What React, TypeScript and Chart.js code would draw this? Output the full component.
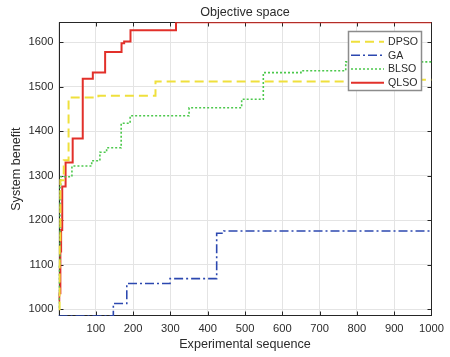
import { useEffect, useRef } from "react";
import { Chart, registerables } from "chart.js";

Chart.register(...registerables);

// Axis ranges and ticks
const xMin = 0;
const xMax = 1000;
const xTickStep = 100;
const yMin = 985;
const yMax = 1645;
const yTickStep = 100;
const yFirstTick = 1000;

// Best system benefit found so far, recorded at each improvement step
const dpsoX = [0, 3, 5, 14, 27, 107, 260, 950, 1000];
const dpsoY = [1000, 1150, 1290, 1335, 1476, 1480, 1512, 1516, 1516];

const gaX = [0, 147, 183, 299, 424, 443, 1000];
const gaY = [985, 1013, 1058, 1069, 1171, 1176, 1176];

const blsoX = [0, 2, 4, 6, 36, 89, 111, 129, 168, 192, 350, 491, 549, 650, 770, 1000];
const blsoY = [1005, 1100, 1280, 1298, 1322, 1334, 1353, 1363, 1418, 1435, 1453, 1472, 1532, 1536, 1556, 1556];

const qlsoX = [0, 2, 5, 7, 10, 19, 38, 65, 92, 125, 169, 176, 193, 315, 1000];
const qlsoY = [1020, 1036, 1130, 1178, 1276, 1330, 1384, 1518, 1532, 1578, 1598, 1602, 1627, 1645, 1645];

const seriesNames = ["DPSO", "GA", "BLSO", "QLSO"];

const titleText = "Objective space";
const xTitle = "Experimental sequence";
const yTitle = "System benefit";

const FONT = "'Liberation Sans', Arial, Helvetica, sans-serif";
const AXIS_COLOR = "#262626";
const TEXT_COLOR = "#2b2b2b";

const pts = (xs: number[], ys: number[]) => xs.map((x, i) => ({ x, y: ys[i] }));

const styles = [
  { color: "#EFE03C", dash: [9, 5], width: 2 },
  { color: "#2C48B0", dash: [9, 3, 2, 3], width: 1.6 },
  { color: "#4CC84C", dash: [2, 2], width: 1.6 },
  { color: "#E2302A", dash: [] as number[], width: 2 },
];

const framePlugin = {
  id: "frame",
  beforeDatasetsDraw(chart: any) {
    const { ctx, chartArea: a, scales } = chart;
    const x = scales.x;
    const y = scales.y;
    ctx.save();
    ctx.strokeStyle = AXIS_COLOR;
    ctx.lineWidth = 1;
    const L = Math.round(a.left) + 0.5;
    const R = Math.round(a.right) - 0.5;
    const T = Math.round(a.top) + 0.5;
    const B = Math.round(a.bottom) - 0.5;
    ctx.strokeRect(L, T, R - L, B - T);
    const tl = 4;
    ctx.beginPath();
    for (let v = xMin + xTickStep; v < xMax; v += xTickStep) {
      const px = Math.round(x.getPixelForValue(v)) + 0.5;
      ctx.moveTo(px, B);
      ctx.lineTo(px, B - tl);
      ctx.moveTo(px, T);
      ctx.lineTo(px, T + tl);
    }
    for (let v = yFirstTick; v <= yMax; v += yTickStep) {
      const py = Math.round(y.getPixelForValue(v)) + 0.5;
      ctx.moveTo(L, py);
      ctx.lineTo(L + tl, py);
      ctx.moveTo(R, py);
      ctx.lineTo(R - tl, py);
    }
    ctx.stroke();
    ctx.restore();
  },
  afterDraw(chart: any) {
    const { ctx, chartArea: a } = chart;
    const cx = (a.left + a.right) / 2;
    const cy = (a.top + a.bottom) / 2;
    ctx.save();
    ctx.fillStyle = TEXT_COLOR;
    ctx.textAlign = "center";
    ctx.textBaseline = "middle";
    ctx.font = `12.6px ${FONT}`;
    ctx.fillText(titleText, cx, 12.5);
    ctx.fillText(xTitle, cx, 345);
    ctx.save();
    ctx.translate(17, cy);
    ctx.rotate(-Math.PI / 2);
    ctx.fillText(yTitle, 0, 0);
    ctx.restore();

    // Legend box
    const bx = 348.5;
    const by = 31.5;
    const bw = 73;
    const bh = 59;
    ctx.fillStyle = "#ffffff";
    ctx.fillRect(bx, by, bw, bh);
    ctx.strokeStyle = "#8c8c8c";
    ctx.lineWidth = 1.5;
    ctx.strokeRect(bx, by, bw, bh);
    ctx.font = `10.6px ${FONT}`;
    ctx.textAlign = "left";
    const rows = [41.7, 55.3, 69, 82.7];
    chart.data.datasets.forEach((ds: any, i: number) => {
      const ry = rows[i];
      ctx.strokeStyle = ds.borderColor;
      ctx.lineWidth = ds.borderWidth;
      ctx.setLineDash(ds.borderDash || []);
      ctx.beginPath();
      ctx.moveTo(351, ry);
      ctx.lineTo(384, ry);
      ctx.stroke();
      ctx.setLineDash([]);
      ctx.fillStyle = TEXT_COLOR;
      ctx.fillText(ds.label, 388, ry + 0.5);
    });
    ctx.restore();
  },
};

export default function App() {
  const ref = useRef<HTMLCanvasElement | null>(null);

  useEffect(() => {
    if (!ref.current) return;
    const seriesData = [pts(dpsoX, dpsoY), pts(gaX, gaY), pts(blsoX, blsoY), pts(qlsoX, qlsoY)];
    const chart = new Chart(ref.current, {
      type: "line",
      data: {
        datasets: seriesNames.map((name, i) => ({
          label: name,
          data: seriesData[i],
          borderColor: styles[i].color,
          backgroundColor: styles[i].color,
          borderWidth: styles[i].width,
          borderDash: styles[i].dash,
          stepped: true,
          pointRadius: 0,
          fill: false,
        })),
      },
      options: {
        animation: false,
        responsive: false,
        maintainAspectRatio: false,
        devicePixelRatio: 1,
        layout: { padding: { left: 0, top: 22.3, right: 18.3, bottom: 0 } },
        plugins: {
          legend: { display: false },
          title: { display: false },
          tooltip: { enabled: false },
        },
        scales: {
          x: {
            type: "linear",
            min: xMin,
            max: xMax,
            afterFit: (s: any) => {
              s.height = 41;
            },
            ticks: {
              stepSize: xTickStep,
              padding: 6,
              color: TEXT_COLOR,
              font: { family: FONT, size: 11.2 },
              maxRotation: 0,
              callback: (v: any) => (Number(v) === 0 ? "" : String(v)),
            },
            grid: { color: "#e4e4e4", drawTicks: false },
            border: { display: false },
          },
          y: {
            type: "linear",
            min: yMin,
            max: yMax,
            afterFit: (s: any) => {
              s.width = 58.5;
            },
            afterBuildTicks: (s: any) => {
              const t = [];
              for (let v = yFirstTick; v <= yMax; v += yTickStep) t.push({ value: v });
              s.ticks = t;
            },
            ticks: {
              padding: 5,
              color: TEXT_COLOR,
              font: { family: FONT, size: 11.2 },
              callback: (v: any) => String(v),
            },
            grid: { color: "#e4e4e4", drawTicks: false },
            border: { display: false },
          },
        },
      },
      plugins: [framePlugin],
    });
    return () => chart.destroy();
  }, []);

  return (
    <div style={{ position: "fixed", left: 0, top: 0, width: 450, height: 357, background: "#fff" }}>
      <canvas ref={ref} width={450} height={357} style={{ width: 450, height: 357, display: "block" }} />
    </div>
  );
}
